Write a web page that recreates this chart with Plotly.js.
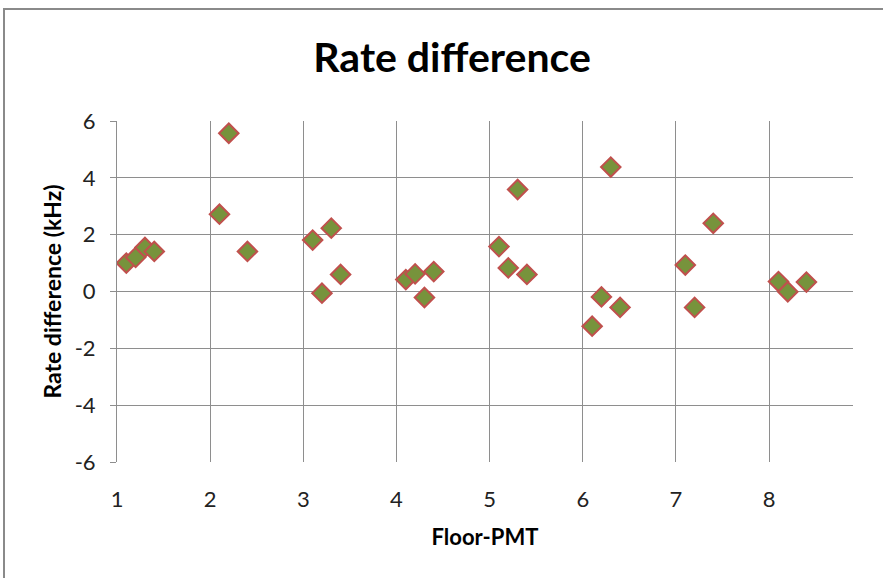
<!DOCTYPE html>
<html>
<head>
<meta charset="utf-8">
<script src="https://cdn.plot.ly/plotly-3.0.1.min.js"></script>
<style>
  html, body { margin: 0; padding: 0; background: #fff; }
  #wrap { position: relative; width: 883px; height: 578px; overflow: hidden; }
  #chart { position: absolute; left: 0; top: 0; width: 883px; height: 578px; }
  #frame { position: absolute; left: 3px; top: 8px; width: 900px; height: 600px;
           border-left: 2px solid #8a8a8a; border-top: 2px solid #8a8a8a; pointer-events: none; }
</style>
</head>
<body>
<div id="wrap">
  <div id="chart"></div>
  <div id="frame"></div>
</div>
<script>
// Floor-PMT positions and rate differences (kHz)
const floorPmt = [1.1, 1.2, 1.3, 1.4,
                  2.1, 2.2, 2.4,
                  3.1, 3.2, 3.3, 3.4,
                  4.1, 4.2, 4.3, 4.4,
                  5.1, 5.2, 5.3, 5.4,
                  6.1, 6.2, 6.3, 6.4,
                  7.1, 7.2, 7.4,
                  8.1, 8.2, 8.4];
const rateDiff = [1.0, 1.2, 1.55, 1.41,
                  2.72, 5.57, 1.41,
                  1.81, -0.06, 2.23, 0.6,
                  0.42, 0.62, -0.21, 0.7,
                  1.58, 0.83, 3.59, 0.6,
                  -1.22, -0.19, 4.38, -0.56,
                  0.93, -0.56, 2.4,
                  0.35, -0.01, 0.33];
const xTicks = [1, 2, 3, 4, 5, 6, 7, 8];
const yTicks = [-6, -4, -2, 0, 2, 4, 6];

const FONT = "Lato, 'Open Sans', sans-serif";
const BOLD = "Lato, 'Open Sans', sans-serif";

const trace = {
  type: 'scatter',
  mode: 'markers',
  x: floorPmt,
  y: rateDiff,
  marker: {
    symbol: 'diamond',
    size: 15,
    color: '#77933C',
    line: { color: '#C0504D', width: 2 }
  },
  hoverinfo: 'x+y'
};

const layout = {
  width: 883,
  height: 578,
  margin: { l: 117, r: 30, t: 121, b: 116, pad: 0 },
  paper_bgcolor: 'rgba(0,0,0,0)',
  plot_bgcolor: '#fff',
  showlegend: false,
  title: {
    text: '<b>Rate difference</b>',
    font: { family: BOLD, size: 41, color: '#000' },
    xref: 'container', x: 0.512, xanchor: 'center',
    yref: 'container', y: 1 - 58 / 578, yanchor: 'middle'
  },
  xaxis: {
    range: [1, 8.9],
    tickvals: xTicks,
    ticktext: xTicks.map(String),
    showgrid: true,
    gridcolor: '#8E8E8E',
    gridwidth: 1,
    zeroline: false,
    showline: false,
    ticks: '',
    ticklabelstandoff: 22,
    tickfont: { family: FONT, size: 22, color: '#222' },
    title: {
      text: '<b>Floor-PMT</b>',
      font: { family: BOLD, size: 22, color: '#000' },
      standoff: 18
    }
  },
  yaxis: {
    range: [-6, 6],
    tickvals: yTicks,
    ticktext: yTicks.map(String),
    showgrid: true,
    gridcolor: '#8E8E8E',
    gridwidth: 1,
    zeroline: false,
    showline: true,
    linecolor: '#8E8E8E',
    linewidth: 1,
    ticks: 'outside',
    ticklen: 6,
    tickcolor: '#8E8E8E',
    ticklabelstandoff: 10,
    tickfont: { family: FONT, size: 22, color: '#222' },
    title: {
      text: '<b>Rate difference (kHz)</b>',
      font: { family: BOLD, size: 23, color: '#000' },
      standoff: 6
    }
  }
};

Plotly.newPlot('chart', [trace], layout, { staticPlot: true, displayModeBar: false });
</script>
</body>
</html>
